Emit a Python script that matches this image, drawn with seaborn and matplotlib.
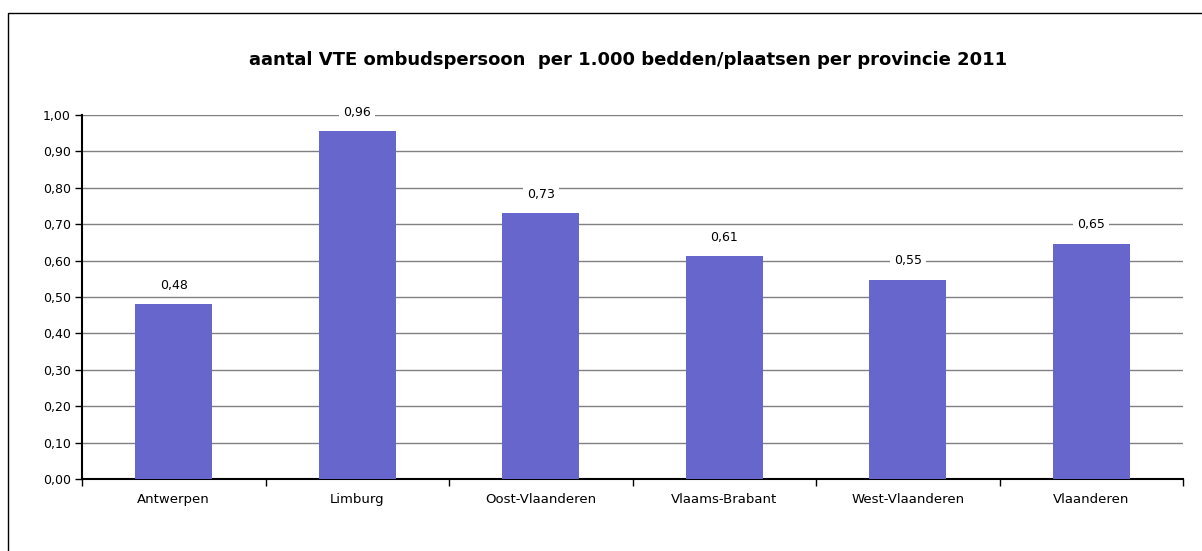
import matplotlib
matplotlib.use("Agg")
import matplotlib.pyplot as plt
import seaborn as sns
import numpy as np
import pandas as pd
from matplotlib.patches import Rectangle
from matplotlib.ticker import FixedLocator, FuncFormatter

categories = ["Antwerpen", "Limburg", "Oost-Vlaanderen", "Vlaams-Brabant", "West-Vlaanderen", "Vlaanderen"]
values = [0.48, 0.956, 0.73, 0.612, 0.548, 0.646]
title = "aantal VTE ombudspersoon  per 1.000 bedden/plaatsen per provincie 2011"

sns.set_theme(style="white")
plt.rcParams['font.family'] = ['DejaVu Sans']
plt.rcParams['text.color'] = 'black'
plt.rcParams['xtick.color'] = 'black'
plt.rcParams['ytick.color'] = 'black'

df = pd.DataFrame({"cat": categories, "val": values})

fig = plt.figure(figsize=(12.02, 5.51), dpi=100)
# outer chart border
fig.patches.append(Rectangle((8/1202, -0.05), 1.2, 1 - 13/551 + 0.05, transform=fig.transFigure,
                             fill=False, edgecolor="#000000", linewidth=1.0))
ax = fig.add_axes([82/1202, 1 - 479/551, (1183 - 82)/1202, (479 - 115)/551])

sns.barplot(data=df, x="cat", y="val", color="#6666CC", width=0.42, saturation=1, ax=ax,
            zorder=3, linewidth=0, edgecolor="none")

ax.set_ylim(0, 1.0)
ax.set_xlim(-0.5, len(categories) - 0.5)
ax.set_yticks(np.arange(0, 1.01, 0.1))
ax.yaxis.set_major_formatter(FuncFormatter(lambda v, p: f"{v:.2f}".replace(".", ",")))
ax.yaxis.grid(True, color="#808080", linewidth=1.0, zorder=0)
ax.set_axisbelow(True)
for s in ["top", "right"]:
    ax.spines[s].set_visible(False)
for s in ["left", "bottom"]:
    ax.spines[s].set_color("black")
    ax.spines[s].set_linewidth(1.5)
ax.tick_params(axis="y", which="major", length=5, width=1, color="black", labelsize=9, pad=3,
               left=True, labelcolor="black")
ax.tick_params(axis="x", which="major", length=0, labelsize=9.5, pad=10, labelcolor="black")
ax.xaxis.set_minor_locator(FixedLocator(np.arange(-0.5, len(categories), 1.0)))
ax.tick_params(axis="x", which="minor", length=5, width=1, color="black", bottom=True)
ax.set_xlabel("")
ax.set_ylabel("")

for i, v in enumerate(values):
    ax.text(i, v + 0.052, f"{v:.2f}".replace(".", ","), ha="center", va="center", fontsize=9,
            color="black", bbox=dict(facecolor="white", edgecolor="none", pad=3), zorder=4)

fig.text(628/1202, 1 - 60/551, title, ha="center", va="center", fontsize=13,
         fontweight="bold", color="black")

fig.savefig("out.png", dpi=100, facecolor="white")
